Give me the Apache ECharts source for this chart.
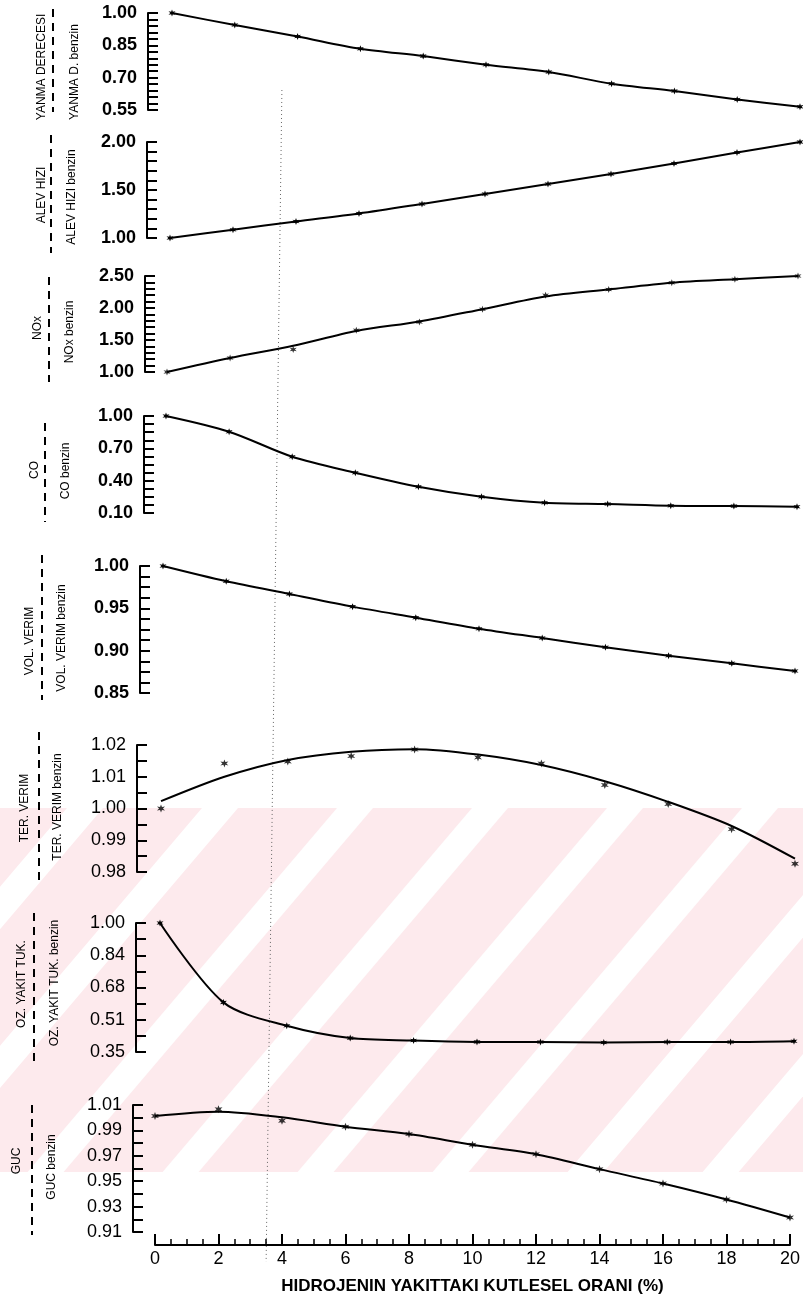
<!DOCTYPE html>
<html>
<head>
<meta charset="utf-8">
<script src="https://cdn.jsdelivr.net/npm/echarts@6/dist/echarts.min.js"></script>
<style>
  html, body { margin: 0; padding: 0; background: #ffffff; }
  #chart { width: 803px; height: 1301px; }
</style>
</head>
<body>
<div id="chart"></div>
<script>
// Hydrogen mass fraction in the fuel (%), shared x values of every panel
const hydrogenPct = [0, 2, 4, 6, 8, 10, 12, 14, 16, 18, 20];

// Ratios relative to pure gasoline (benzin)
const yanmaDerecesi = [1.00, 0.944, 0.891, 0.834, 0.800, 0.760, 0.726, 0.672, 0.638, 0.599, 0.565];
const alevHizi      = [1.00, 1.086, 1.172, 1.255, 1.355, 1.459, 1.562, 1.666, 1.776, 1.890, 2.00];
const noxOlcum      = [1.00, 1.219, 1.351, 1.653, 1.783, 1.982, 2.200, 2.290, 2.395, 2.450, 2.500];
const noxEgri       = [1.00, 1.219, 1.410, 1.640, 1.790, 1.982, 2.180, 2.290, 2.395, 2.450, 2.500];
const coOrani       = [1.00, 0.854, 0.622, 0.474, 0.344, 0.251, 0.195, 0.183, 0.167, 0.164, 0.158];
const volVerim      = [1.00, 0.982, 0.967, 0.952, 0.939, 0.926, 0.915, 0.904, 0.894, 0.885, 0.876];
const terVerimOlcum = [1.000, 1.0142, 1.0148, 1.0165, 1.0186, 1.0161, 1.0142, 1.0074, 1.0014, 0.9935, 0.9826];
const terVerimEgri  = [1.0023, 1.0100, 1.0153, 1.0179, 1.0187, 1.0170, 1.0137, 1.0086, 1.0021, 0.9945, 0.9842];
const ozYakitTuk    = [1.00, 0.600, 0.482, 0.420, 0.408, 0.401, 0.400, 0.398, 0.400, 0.400, 0.404];
const gucOlcum      = [1.0013, 1.0066, 0.9976, 0.9929, 0.9871, 0.9787, 0.9713, 0.9595, 0.9482, 0.9356, 0.9214];
const gucEgri       = [1.0013, 1.0047, 1.0003, 0.9929, 0.9871, 0.9787, 0.9713, 0.9595, 0.9482, 0.9356, 0.9214];

// Y tick values (and labels where they are rounded)
const yanmaTicks = [0.55, 0.70, 0.85, 1.00];
const alevTicks  = [1.00, 1.50, 2.00];
const noxTicks   = [1.00, 1.50, 2.00, 2.50];
const coTicks    = [0.10, 0.40, 0.70, 1.00];
const volTicks   = [0.85, 0.90, 0.95, 1.00];
const terTicks   = [0.98, 0.99, 1.00, 1.01, 1.02];
const ozTicks    = [0.35, 0.5125, 0.675, 0.8375, 1.00];
const ozTickLabels = ['0.35', '0.51', '0.68', '0.84', '1.00'];
const gucTicks   = [0.91, 0.93, 0.95, 0.97, 0.99, 1.01];

// X axis
const xMin = 0, xMax = 20, xStep = 2;
const xAxisTitle = 'HIDROJENIN YAKITTAKI KUTLESEL ORANI (%)';
const markerPct = 3.5;

// Small six-armed star used for the measured points
function starSymbol() {
  const pts = [];
  for (let i = 0; i < 12; i++) {
    const a = Math.PI / 2 + i * Math.PI / 6;
    const r = i % 2 ? 0.42 : 1;
    pts.push((r * Math.cos(a)).toFixed(3) + ',' + (-r * Math.sin(a)).toFixed(3));
  }
  return 'path://M' + pts.join('L') + 'Z';
}
const STAR = starSymbol();

// Panel layout (pixels) and content
const panels = [
  { num: 'YANMA DERECESI', den: 'YANMA D. benzin', ticks: yanmaTicks, minor: 5, line: yanmaDerecesi,
    top: 13, bottom: 110, x0: 172, x20: 800, axisX: 148, bold: true,
    numX: 42, numY: 67, denX: 75, denY: 72, barX: 53, barY: [9, 112] },
  { num: 'ALEV HIZI', den: 'ALEV HIZI benzin', ticks: alevTicks, minor: 5, line: alevHizi,
    top: 142, bottom: 238, x0: 170, x20: 800, axisX: 147, bold: true,
    numX: 42, numY: 195, denX: 72, denY: 197, barX: 51, barY: [135, 253] },
  { num: 'NOx', den: 'NOx benzin', ticks: noxTicks, minor: 5, line: noxEgri, points: noxOlcum, pointSize: 7,
    top: 276, bottom: 372, x0: 167, x20: 798, axisX: 145, bold: true,
    numX: 38, numY: 328, denX: 70, denY: 332, barX: 49, barY: [277, 382] },
  { num: 'CO', den: 'CO benzin', ticks: coTicks, minor: 4, line: coOrani,
    top: 416, bottom: 513, x0: 166, x20: 797, axisX: 144, bold: true,
    numX: 35, numY: 470, denX: 66, denY: 471, barX: 45, barY: [423, 522] },
  { num: 'VOL. VERIM', den: 'VOL. VERIM benzin', ticks: volTicks, minor: 4, line: volVerim,
    top: 566, bottom: 693, x0: 163, x20: 795, axisX: 140, bold: true,
    numX: 30, numY: 641, denX: 62, denY: 638, barX: 42, barY: [555, 700] },
  { num: 'TER. VERIM', den: 'TER. VERIM benzin', ticks: terTicks, minor: 2, line: terVerimEgri, points: terVerimOlcum,
    top: 745, bottom: 872, x0: 161, x20: 795, axisX: 137, bold: false,
    numX: 25, numY: 808, denX: 58, denY: 807, barX: 39, barY: [732, 882] },
  { num: 'OZ. YAKIT TUK.', den: 'OZ. YAKIT TUK. benzin', ticks: ozTicks, labels: ozTickLabels, minor: 2, line: ozYakitTuk,
    top: 923, bottom: 1052, x0: 160, x20: 794, axisX: 136, bold: false,
    numX: 22, numY: 984, denX: 55, denY: 983, barX: 34, barY: [913, 1062] },
  { num: 'GUC', den: 'GUC benzin', ticks: gucTicks, minor: 2, line: gucEgri, points: gucOlcum,
    top: 1105, bottom: 1232, x0: 155, x20: 792, axisX: 133, bold: false,
    numX: 17, numY: 1161, denX: 52, denY: 1167, barX: 32, barY: [1105, 1235] }
];

const FONT = '"Liberation Sans", Arial, Helvetica, sans-serif';
const grid = [], xAxis = [], yAxis = [], series = [], graphic = [];

// Pale pink diagonal band pattern behind the lower panels
const bandTop = 808, bandBottom = 1172, stripeStep = 135, stripeWidth = 36, stripeStart = 472, stripeLean = 0.85;
graphic.push({
  type: 'rect', z: -10, silent: true,
  shape: { x: 0, y: bandTop, width: 803, height: bandBottom - bandTop },
  style: { fill: '#fdeaed' }
});
{
  const shift = (bandBottom - bandTop) * stripeLean;
  for (let s = stripeStart - stripeStep * 4; s < 803 + shift; s += stripeStep) {
    graphic.push({
      type: 'polygon', z: -9, silent: true,
      shape: { points: [[s, bandTop], [s + stripeWidth, bandTop], [s + stripeWidth - shift, bandBottom], [s - shift, bandBottom]] },
      style: { fill: '#ffffff' }
    });
  }
}

panels.forEach((p, i) => {
  const last = i === panels.length - 1;
  grid.push({ left: p.x0, top: p.top, width: p.x20 - p.x0, height: p.bottom - p.top });

  xAxis.push({
    type: 'value', gridIndex: i, min: xMin, max: xMax, interval: xStep,
    show: last,
    offset: last ? 13 : 0,
    axisLine: { show: true, lineStyle: { color: '#000', width: 2 } },
    axisTick: { show: true, inside: true, length: 11, lineStyle: { color: '#000', width: 2 } },
    minorTick: { show: true, splitNumber: 4, length: 6, lineStyle: { color: '#000', width: 1.5 } },
    axisLabel: { show: true, color: '#000', fontSize: 18, fontFamily: FONT, margin: 5 },
    splitLine: { show: false },
    name: last ? xAxisTitle : '',
    nameLocation: 'middle', nameGap: 33,
    nameTextStyle: { color: '#000', fontSize: 17, fontWeight: 'bold', fontFamily: FONT }
  });

  const lo = p.ticks[0], hi = p.ticks[p.ticks.length - 1];
  const tickVals = [];
  for (let k = 0; k < p.ticks.length - 1; k++) {
    for (let m = 0; m < p.minor; m++) {
      tickVals.push(p.ticks[k] + (p.ticks[k + 1] - p.ticks[k]) * m / p.minor);
    }
  }
  tickVals.push(hi);

  yAxis.push({
    type: 'value', gridIndex: i, min: lo, max: hi, offset: p.x0 - p.axisX,
    axisLine: { show: true, onZero: false, lineStyle: { color: '#000', width: 2 } },
    axisTick: { show: true, inside: true, length: 10, customValues: tickVals, lineStyle: { color: '#000', width: 2 } },
    axisLabel: {
      show: true, customValues: p.ticks, color: '#000', fontSize: 18, fontFamily: FONT,
      fontWeight: p.bold ? 'bold' : 'normal', margin: 11,
      formatter: v => {
        const idx = p.ticks.findIndex(t => Math.abs(t - v) < 1e-9);
        return p.labels && idx >= 0 ? p.labels[idx] : Number(v).toFixed(2);
      }
    },
    splitLine: { show: false }
  });

  const pairs = vals => hydrogenPct.map((x, j) => [x, vals[j]]);
  series.push({
    type: 'line', xAxisIndex: i, yAxisIndex: i, data: pairs(p.line),
    smooth: 0.3,
    showSymbol: !p.points, symbol: STAR, symbolSize: 7,
    lineStyle: { color: '#000', width: 2 }, itemStyle: { color: '#000' },
    clip: false, silent: true, animation: false
  });
  if (p.points) {
    series.push({
      type: 'scatter', xAxisIndex: i, yAxisIndex: i, data: pairs(p.points),
      symbol: STAR, symbolSize: p.pointSize || 8, itemStyle: { color: '#000' }, silent: true, animation: false
    });
  }

  // fraction label: numerator, dashed bar, denominator
  graphic.push({
    type: 'text', x: p.numX, y: p.numY, rotation: Math.PI / 2,
    style: { text: p.num, fill: '#000', font: '12px ' + FONT, align: 'center', verticalAlign: 'middle' }
  });
  graphic.push({
    type: 'line', shape: { x1: p.barX, y1: p.barY[0], x2: p.barX, y2: p.barY[1] },
    style: { stroke: '#000', lineWidth: 2, lineDash: [8, 6] }
  });
  graphic.push({
    type: 'text', x: p.denX, y: p.denY, rotation: Math.PI / 2,
    style: { text: p.den, fill: '#000', font: '12px ' + FONT, align: 'center', verticalAlign: 'middle' }
  });
});

const chart = echarts.init(document.getElementById('chart'), null, { renderer: 'canvas' });
chart.setOption({
  backgroundColor: '#ffffff',
  animation: false,
  grid, xAxis, yAxis, series, graphic
});

// dotted vertical guide at a fixed hydrogen share, spanning all panels
const topX = chart.convertToPixel({ xAxisIndex: 0 }, markerPct);
const botX = chart.convertToPixel({ xAxisIndex: panels.length - 1 }, markerPct);
graphic.push({
  type: 'line', z: -1,
  shape: { x1: topX, y1: 90, x2: botX, y2: 1262 },
  style: { stroke: '#666', lineWidth: 1, lineDash: [1, 3] }
});
chart.setOption({ graphic });
</script>
</body>
</html>
